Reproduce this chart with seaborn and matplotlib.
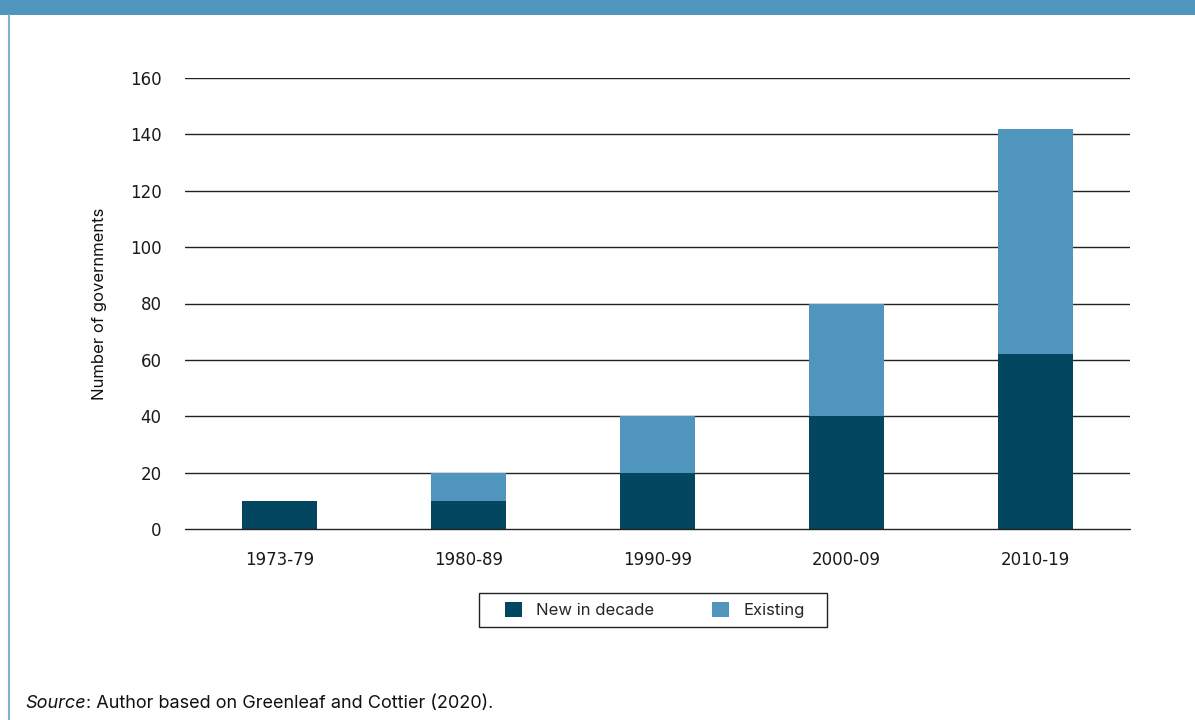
import pandas as pd
import matplotlib.pyplot as plt
import seaborn as sns
from matplotlib.patches import Patch, Rectangle
from matplotlib.lines import Line2D

decades = ["1973-79", "1980-89", "1990-99", "2000-09", "2010-19"]
new_in_decade = [10, 10, 20, 40, 62]
existing = [0, 10, 20, 40, 80]

DARK = "#02475f"
LIGHT = "#4f95be"
FS = 12

df = pd.DataFrame({"Decade": decades, "New": new_in_decade, "Existing": existing})
df["Total"] = df["New"] + df["Existing"]

sns.set_theme(style="white")
plt.rcParams['font.family'] = ['Inter', 'DejaVu Sans']

fig = plt.figure(figsize=(11.95, 7.2), dpi=100)
ax = fig.add_axes([185 / 1195, 1 - 529 / 720, (1130 - 185) / 1195, (529 - 78) / 720])

sns.barplot(data=df, x="Decade", y="Total", order=decades, color=LIGHT,
            width=0.4, saturation=1, ax=ax, zorder=3, linewidth=0)
sns.barplot(data=df, x="Decade", y="New", order=decades, color=DARK,
            width=0.4, saturation=1, ax=ax, zorder=3, linewidth=0)

ax.set_xlim(-0.5, 4.5)
ax.set_ylim(0, 160)
ax.set_yticks(range(0, 161, 20))
for y in range(20, 161, 20):
    ax.axhline(y, color="#222222", lw=1.0, zorder=1)
ax.axhline(0, color="#222222", lw=1.0, zorder=5, clip_on=False)
for s in ax.spines.values():
    s.set_visible(False)
ax.tick_params(axis="y", length=0, pad=17, labelsize=FS, colors="#1a1a1a")
ax.tick_params(axis="x", length=0, pad=16, labelsize=FS, colors="#1a1a1a")
# tick numbers are wide, tabular figures in the original
for lab in ax.get_xticklabels() + ax.get_yticklabels():
    lab.set_family("DejaVu Sans")
ax.set_xlabel("")
ax.set_ylabel("Number of governments", fontsize=FS, color="#111111", labelpad=16)

# legend frame drawn by hand so the inner padding can be wider than tall
fig.patches.append(Rectangle((479 / 1195, 1 - 627 / 720), 348 / 1195, 34 / 720,
                             transform=fig.transFigure, facecolor="white",
                             edgecolor="#222222", lw=1.0, zorder=4))
handles = [Patch(facecolor=DARK, edgecolor="none", label="New in decade"),
           Patch(facecolor=LIGHT, edgecolor="none", label="Existing")]
leg = fig.legend(handles=handles, loc="center left", bbox_to_anchor=(505 / 1195, 1 - 610 / 720),
                 ncol=2, frameon=False, fontsize=FS, handlelength=1.0,
                 handleheight=1.0, columnspacing=3.5, borderpad=0, handletextpad=0.85,
                 borderaxespad=0)
leg.set_zorder(5)

# top band and left border
fig.patches.append(Rectangle((0, 1 - 15 / 720), 1, 15 / 720, transform=fig.transFigure,
                             facecolor=LIGHT, edgecolor="none"))
fig.lines.append(Line2D([8.5 / 1195, 8.5 / 1195], [0, 1 - 15 / 720], transform=fig.transFigure,
                        color="#7fb3d3", lw=1.5))

src = fig.text(25 / 1195, 1 - 703 / 720, "Source", fontsize=13, style="italic", va="center", color="#111111")
fig.canvas.draw()
bb = src.get_window_extent()
fig.text(bb.x1 / 1195, 1 - 703 / 720, ": Author based on Greenleaf and Cottier (2020).", fontsize=13,
         va="center", color="#111111")

fig.savefig("out.png", dpi=100)
